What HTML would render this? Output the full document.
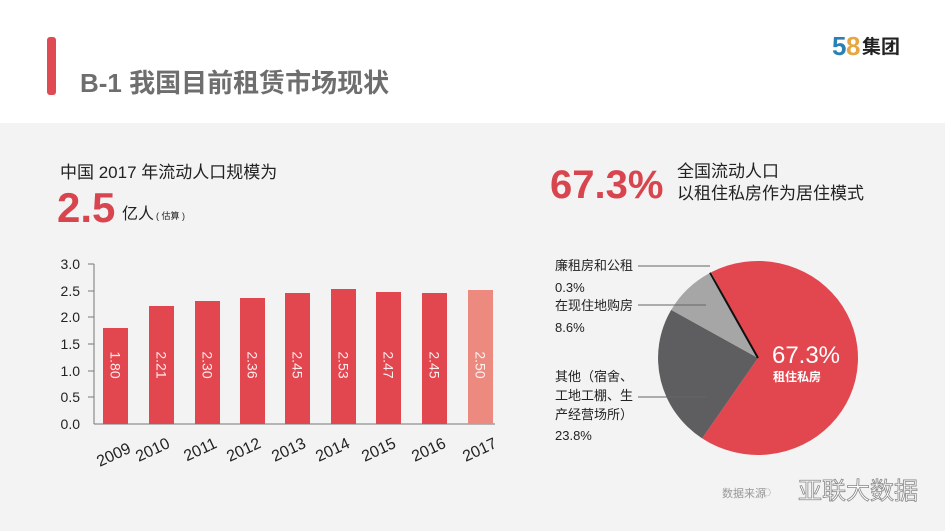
<!DOCTYPE html>
<html><head><meta charset="utf-8"><style>
html,body{margin:0;padding:0;width:945px;height:531px;overflow:hidden;background:#fff}
svg{display:block;font-family:"Liberation Sans","Noto Sans CJK SC",sans-serif}
</style></head><body>
<svg width="945" height="531" viewBox="0 0 945 531" xmlns="http://www.w3.org/2000/svg">
<rect x="0" y="123" width="945" height="408" fill="#f3f3f3"/>
<rect x="47" y="37" width="9" height="58" rx="3" fill="#e04a52"/>
<text x="80" y="92" font-size="26" font-weight="bold" fill="#6e6e6e">B-1  我国目前租赁市场现状</text>
<text x="832" y="55" font-size="26" font-weight="bold" fill="#2a7fb5">5</text>
<text x="846" y="55" font-size="26" font-weight="bold" fill="#e7a640">8</text>
<text x="862" y="53" font-size="19" font-weight="bold" fill="#222">集团</text>

<text x="60" y="178" font-size="17" fill="#222">中国 2017 年流动人口规模为</text>
<text x="57" y="222" font-size="42" font-weight="bold" fill="#d9454e">2.5</text>
<text x="122" y="219" font-size="16" fill="#222">亿人</text>
<text x="156" y="219" font-size="9" fill="#222">( 估算 )</text>

<g font-size="14" fill="#222" text-anchor="end">
<text x="80" y="269">3.0</text><text x="80" y="296">2.5</text><text x="80" y="322">2.0</text>
<text x="80" y="349">1.5</text><text x="80" y="376">1.0</text><text x="80" y="402">0.5</text><text x="80" y="429">0.0</text>
</g>
<g stroke="#777" stroke-width="1">
<line x1="94" y1="264" x2="94" y2="424"/><line x1="94" y1="424" x2="495" y2="424"/>
<line x1="88" y1="264" x2="94" y2="264"/><line x1="88" y1="291" x2="94" y2="291"/><line x1="88" y1="317" x2="94" y2="317"/>
<line x1="88" y1="344" x2="94" y2="344"/><line x1="88" y1="371" x2="94" y2="371"/><line x1="88" y1="397" x2="94" y2="397"/>
</g>
<g fill="#e2474f">
<rect x="103" y="328" width="25" height="96"/>
<rect x="149" y="306" width="25" height="118"/>
<rect x="195" y="301" width="25" height="123"/>
<rect x="240" y="298" width="25" height="126"/>
<rect x="285" y="293" width="25" height="131"/>
<rect x="331" y="289" width="25" height="135"/>
<rect x="376" y="292" width="25" height="132"/>
<rect x="422" y="293" width="25" height="131"/>
</g>
<rect x="468" y="290" width="25" height="134" fill="#ec8a80"/>
<g font-size="14" fill="#fff" fill-opacity="0.9">
<text transform="translate(110.5,365) rotate(90)" text-anchor="middle">1.80</text>
<text transform="translate(156.5,365) rotate(90)" text-anchor="middle">2.21</text>
<text transform="translate(202.5,365) rotate(90)" text-anchor="middle">2.30</text>
<text transform="translate(247.5,365) rotate(90)" text-anchor="middle">2.36</text>
<text transform="translate(292.5,365) rotate(90)" text-anchor="middle">2.45</text>
<text transform="translate(338.5,365) rotate(90)" text-anchor="middle">2.53</text>
<text transform="translate(383.5,365) rotate(90)" text-anchor="middle">2.47</text>
<text transform="translate(429.5,365) rotate(90)" text-anchor="middle">2.45</text>
<text transform="translate(475.5,365) rotate(90)" text-anchor="middle">2.50</text>
</g>
<g font-size="16" fill="#222" text-anchor="end">
<text transform="translate(132,452) rotate(-25)">2009</text>
<text transform="translate(171,447) rotate(-25)">2010</text>
<text transform="translate(218,447) rotate(-25)">2011</text>
<text transform="translate(262,447) rotate(-25)">2012</text>
<text transform="translate(307,447) rotate(-25)">2013</text>
<text transform="translate(351,447) rotate(-25)">2014</text>
<text transform="translate(397,447) rotate(-25)">2015</text>
<text transform="translate(447,447) rotate(-25)">2016</text>
<text transform="translate(498,447) rotate(-25)">2017</text>
</g>

<text x="550" y="198" font-size="40" font-weight="bold" fill="#d9454e">67.3%</text>
<text x="677" y="177" font-size="17" fill="#222">全国流动人口</text>
<text x="677" y="199" font-size="17" fill="#222">以租住私房作为居住模式</text>

<path d="M758,358 L711.1,272.3 A100,97 0 1 1 702.1,438.4 Z" fill="#e2474f"/>
<path d="M758,358 L702.1,438.4 A100,97 0 0 1 671.2,309.9 Z" fill="#5e5d5f"/>
<path d="M758,358 L671.2,309.9 A100,97 0 0 1 709.1,273.4 Z" fill="#a6a6a6"/>
<line x1="758" y1="358" x2="710" y2="272.8" stroke="#111" stroke-width="2"/>
<text x="806" y="363" font-size="24" fill="#fff" text-anchor="middle">67.3%</text>
<text x="797" y="381" font-size="12" font-weight="bold" fill="#fff" text-anchor="middle">租住私房</text>

<g stroke="#666" stroke-width="1">
<line x1="638" y1="266" x2="710" y2="266"/>
<line x1="638" y1="305" x2="706" y2="305"/>
<line x1="638" y1="397" x2="706" y2="397"/>
</g>
<g font-size="13" fill="#222">
<text x="555" y="270">廉租房和公租</text><text x="555" y="292">0.3%</text>
<text x="555" y="310">在现住地购房</text><text x="555" y="332">8.6%</text>
<text x="555" y="381">其他（宿舍、</text><text x="555" y="400">工地工棚、生</text><text x="555" y="419">产经营场所）</text><text x="555" y="440">23.8%</text>
</g>
<text x="722" y="497" font-size="11" fill="#999">数据来源</text>
<text x="762" y="497" font-size="16" fill="#999">◌</text>
<text x="798" y="499" font-size="24" fill="#fff" stroke="#888" stroke-width="0.8">亚联大数据</text>
</svg>
</body></html>
